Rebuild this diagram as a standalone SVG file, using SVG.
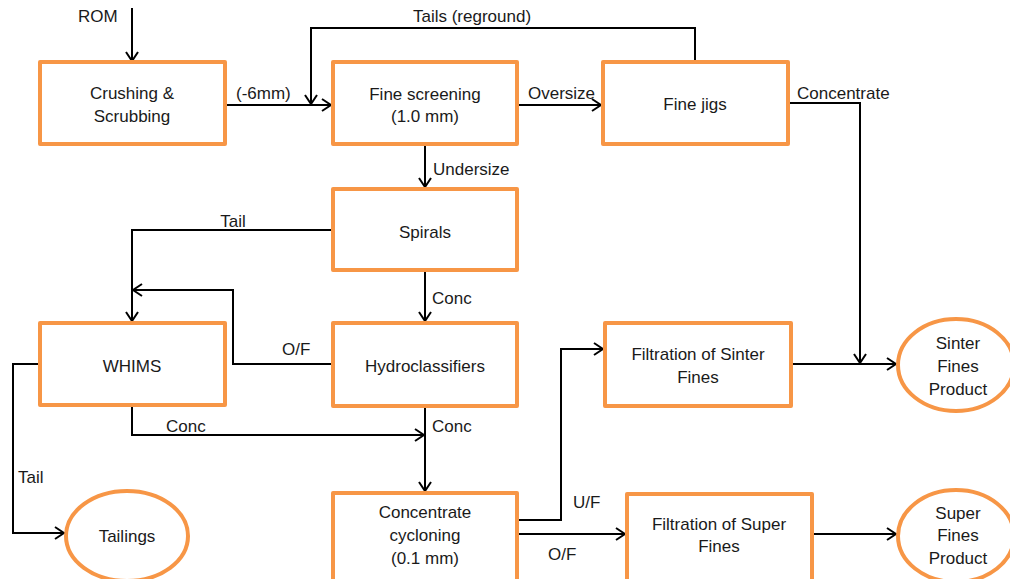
<svg xmlns="http://www.w3.org/2000/svg" width="1010" height="579" viewBox="0 0 1010 579">
<style>
.box{fill:#fff;stroke:#F79646;stroke-width:4;stroke-linejoin:round}
.t{font-family:"Liberation Sans",Arial,sans-serif;font-size:17px;fill:#1a1a1a}
.m{text-anchor:middle}
.c{fill:none;stroke:#000;stroke-width:2}
</style>
<defs>
<marker id="ah" markerUnits="userSpaceOnUse" viewBox="-1 -7 11 14" markerWidth="11" markerHeight="14" refX="9" refY="0" orient="auto">
<path d="M0,-6 L9,0 L0,6" fill="none" stroke="#000" stroke-width="2"/>
</marker>
</defs>
<rect width="1010" height="579" fill="#fff"/>
<g id="connectors">
<path class="c" d="M132,8 V61" marker-end="url(#ah)"/>
<path class="c" d="M225,105 H331" marker-end="url(#ah)"/>
<path class="c" d="M695,62 V28 H311 V104" marker-end="url(#ah)"/>
<path class="c" d="M517,105 H601" marker-end="url(#ah)"/>
<path class="c" d="M425,144 V187" marker-end="url(#ah)"/>
<path class="c" d="M788,103 H860 V363" marker-end="url(#ah)"/>
<path class="c" d="M333,230 H132 V321" marker-end="url(#ah)"/>
<path class="c" d="M333,364 H233 V290 H133" marker-end="url(#ah)"/>
<path class="c" d="M425,270 V321" marker-end="url(#ah)"/>
<path class="c" d="M132,405 V435 H424" marker-end="url(#ah)"/>
<path class="c" d="M425,406 V491" marker-end="url(#ah)"/>
<path class="c" d="M40,364 H13 V533 H64" marker-end="url(#ah)"/>
<path class="c" d="M517,520 H561 V349 H603" marker-end="url(#ah)"/>
<path class="c" d="M517,534 H625" marker-end="url(#ah)"/>
<path class="c" d="M812,534 H896" marker-end="url(#ah)"/>
<path class="c" d="M791,364 H896" marker-end="url(#ah)"/>
</g>
<g id="labels">
<text class="t" x="78" y="22">ROM</text>
<text class="t" x="236" y="99">(-6mm)</text>
<text class="t m" x="472" y="22">Tails (reground)</text>
<text class="t" x="528" y="99">Oversize</text>
<text class="t" x="433" y="175">Undersize</text>
<text class="t" x="797" y="99">Concentrate</text>
<text class="t m" x="233" y="227">Tail</text>
<text class="t" x="282" y="355">O/F</text>
<text class="t" x="432" y="304">Conc</text>
<text class="t" x="166" y="432">Conc</text>
<text class="t" x="432" y="432">Conc</text>
<text class="t" x="18" y="483">Tail</text>
<text class="t" x="573" y="508">U/F</text>
<text class="t" x="548" y="560">O/F</text>
</g>
<g id="crushing">
<rect class="box" x="40" y="62" width="185" height="82"/>
<text class="t m" x="132" y="99">Crushing &amp;</text>
<text class="t m" x="132" y="122">Scrubbing</text>
</g>
<g id="fine-screening">
<rect class="box" x="333" y="62" width="184" height="82"/>
<text class="t m" x="425" y="100">Fine screening</text>
<text class="t m" x="425" y="122">(1.0 mm)</text>
</g>
<g id="fine-jigs">
<rect class="box" x="603" y="62" width="185" height="82"/>
<text class="t m" x="695" y="110">Fine jigs</text>
</g>
<g id="spirals">
<rect class="box" x="333" y="189" width="184" height="81"/>
<text class="t m" x="425" y="238">Spirals</text>
</g>
<g id="whims">
<rect class="box" x="40" y="323" width="185" height="82"/>
<text class="t m" x="132" y="372">WHIMS</text>
</g>
<g id="hydroclassifiers">
<rect class="box" x="333" y="323" width="184" height="83"/>
<text class="t m" x="425" y="372">Hydroclassifiers</text>
</g>
<g id="filtration-sinter">
<rect class="box" x="605" y="323" width="186" height="83"/>
<text class="t m" x="698" y="360">Filtration of Sinter</text>
<text class="t m" x="698" y="383">Fines</text>
</g>
<g id="sinter-product">
<ellipse class="box" cx="956" cy="365" rx="58" ry="46"/>
<text class="t m" x="958" y="349">Sinter</text>
<text class="t m" x="958" y="372">Fines</text>
<text class="t m" x="958" y="395">Product</text>
</g>
<g id="cycloning">
<rect class="box" x="333" y="493" width="184" height="90"/>
<text class="t m" x="425" y="518">Concentrate</text>
<text class="t m" x="425" y="541">cycloning</text>
<text class="t m" x="425" y="564">(0.1 mm)</text>
</g>
<g id="filtration-super">
<rect class="box" x="627" y="494" width="185" height="90"/>
<text class="t m" x="719" y="530">Filtration of Super</text>
<text class="t m" x="719" y="552">Fines</text>
</g>
<g id="super-product">
<ellipse class="box" cx="956" cy="536" rx="58" ry="46"/>
<text class="t m" x="958" y="519">Super</text>
<text class="t m" x="958" y="541">Fines</text>
<text class="t m" x="958" y="564">Product</text>
</g>
<g id="tailings">
<ellipse class="box" cx="127" cy="536" rx="61" ry="45"/>
<text class="t m" x="127" y="542">Tailings</text>
</g>
</svg>
